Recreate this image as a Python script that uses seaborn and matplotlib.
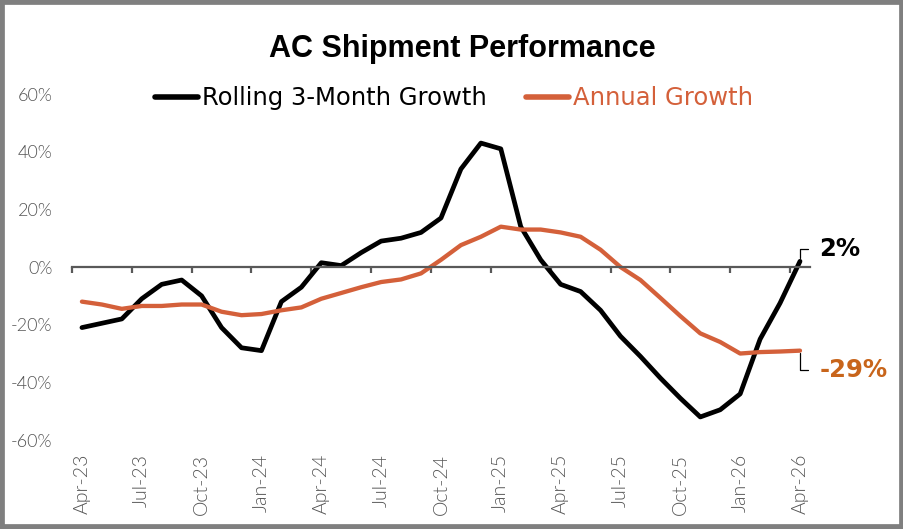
import numpy as np
import pandas as pd
import matplotlib.pyplot as plt
import seaborn as sns
from matplotlib.patches import Rectangle

# monthly categories Apr-23 .. Apr-26
months = pd.date_range('2023-04-01', '2026-04-01', freq='MS').strftime('%b-%y').tolist()

# growth values (%)
rolling_3m = [-21, -19.5, -18, -11, -6, -4.5, -10, -21, -28, -29, -12, -7, 1.5,
              0.5, 5, 9, 10, 12, 17, 34, 43, 41, 14, 2.5, -6, -8.5, -15, -24,
              -31, -38.5, -45.5, -52, -49.5, -44, -25, -12.5, 2]
annual = [-12, -13, -14.5, -13.5, -13.5, -13, -13, -15.5, -16.7, -16.3, -15, -14,
          -11, -9, -7, -5.2, -4.3, -2.2, 2.5, 7.6, 10.5, 14, 13, 13, 12, 10.5, 6,
          0, -4.5, -10.7, -17, -23, -26, -30, -29.5, -29.3, -29]

series_names = ['Rolling 3-Month Growth', 'Annual Growth']
colors = {'Rolling 3-Month Growth': '#000000', 'Annual Growth': '#D4603A'}
label_orange = '#C8651B'

df = pd.DataFrame({'idx': np.arange(len(months)), 'month': months,
                   series_names[0]: np.array(rolling_3m) / 100,
                   series_names[1]: np.array(annual) / 100})
long_df = df.melt(id_vars=['idx', 'month'], value_vars=series_names,
                  var_name='series', value_name='growth')

sns.set_theme(style='white')
plt.rcParams['font.family'] = ['DejaVu Sans']
plt.rcParams['text.color'] = 'black'

fig = plt.figure(figsize=(9.04, 5.29), dpi=100)
ax = fig.add_axes([0.0796, 0.1682, 0.8164, 0.654])

sns.lineplot(data=long_df, x='idx', y='growth', hue='series', palette=colors,
             hue_order=series_names, ax=ax, linewidth=3.4)
ax.get_lines()[1].set_linewidth(3.1)

ax.set_xlim(-0.5, len(months) - 0.5)
ax.set_ylim(-0.6, 0.6)
ax.set_xlabel('')
ax.set_ylabel('')

# y axis
yticks = np.arange(-0.6, 0.61, 0.2)
ax.set_yticks(yticks)
ax.set_yticklabels([f'{v:.0%}' for v in yticks])
ax.tick_params(axis='y', length=0, pad=14, labelcolor='#555555', labelsize=13)
for t in ax.get_yticklabels():
    t.set_family('Lato')
    t.set_fontweight(300)

# zero line with boundary ticks
for s in ['left', 'right', 'top']:
    ax.spines[s].set_visible(False)
ax.spines['bottom'].set_position(('data', 0))
ax.spines['bottom'].set_color('#595959')
ax.spines['bottom'].set_linewidth(1.6)
ax.set_xticks(np.arange(-0.5, len(months) - 1, 3))
ax.tick_params(axis='x', bottom=True, direction='out', length=4, width=1.6,
               color='#595959', labelbottom=False)

# category labels at the bottom
secax = ax.secondary_xaxis('bottom')
secax.set_xticks(df['idx'][::3], df['month'][::3])
secax.spines['bottom'].set_visible(False)
secax.tick_params(axis='x', length=0, pad=10, labelrotation=90,
                  labelcolor='#555555', labelsize=14)
for t in secax.get_xticklabels():
    t.set_family('Lato')
    t.set_fontweight(300)

# legend
old = ax.get_legend()
handles = old.legend_handles
labels = [t.get_text() for t in old.get_texts()]
old.remove()
leg = ax.legend(handles, labels, loc='center', bbox_to_anchor=(0.518, 0.988),
                ncol=2, frameon=False, fontsize=17.5, handlelength=1.75,
                handletextpad=0.2, columnspacing=1.6)
for h in leg.legend_handles:
    h.set_linewidth(4)
leg.get_texts()[0].set_color('black')
leg.get_texts()[1].set_color(colors['Annual Growth'])

# end-of-series labels
ax.annotate(f'{rolling_3m[-1]:.0f}%', xy=(df['idx'].iloc[-1], rolling_3m[-1] / 100),
            xytext=(14, 9), textcoords='offset points', fontsize=17.5,
            fontweight='bold', color='black', va='center', ha='left',
            arrowprops=dict(arrowstyle='-', color='black', lw=0.9, shrinkA=6, shrinkB=2,
                            relpos=(0, 0.5),
                            connectionstyle='angle,angleA=0,angleB=90,rad=0'))
ax.annotate(f'{annual[-1]:.0f}%', xy=(df['idx'].iloc[-1], annual[-1] / 100),
            xytext=(14, -14), textcoords='offset points', fontsize=17.5,
            fontweight='bold', color=label_orange, va='center', ha='left',
            arrowprops=dict(arrowstyle='-', color='black', lw=0.9, shrinkA=6, shrinkB=2,
                            relpos=(0, 0.5),
                            connectionstyle='angle,angleA=0,angleB=90,rad=0'))

fig.text(0.511, 0.907, 'AC Shipment Performance', ha='center', va='center',
         fontsize=22, fontweight='bold', family='Liberation Sans', color='black')

# gray frame around the figure
fig.patches.append(Rectangle((0, 0), 1, 1, transform=fig.transFigure, fill=False,
                             edgecolor='#7f7f7f', linewidth=7, zorder=10))

fig.savefig('out.png', dpi=100)
